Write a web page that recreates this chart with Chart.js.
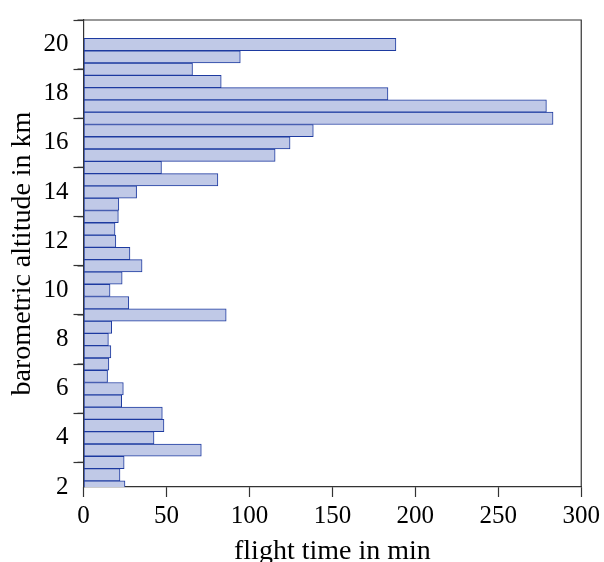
<!DOCTYPE html>
<html lang="en">
<head>
  <meta charset="UTF-8">
  <title>Flight time per altitude</title>
  <script src="https://cdn.jsdelivr.net/npm/chart.js"></script>
  <style>
    * { margin: 0; padding: 0; box-sizing: border-box; }
    body { background: white; }
    .wrap { width: 604px; height: 562px; }
  </style>
</head>
<body>
  <div class="wrap"><canvas id="flightChart" width="604" height="562"></canvas></div>

  <script>
    // altitude bins (km), bottom to top
    const altitudes = [2, 2.5, 3, 3.5, 4, 4.5, 5, 5.5, 6, 6.5, 7, 7.5, 8, 8.5, 9, 9.5, 10, 10.5,
      11, 11.5, 12, 12.5, 13, 13.5, 14, 14.5, 15, 15.5, 16, 16.5, 17, 17.5, 18, 18.5, 19, 19.5, 20];
    // flight time in each bin (min)
    const minutes = [25, 22, 24.5, 71, 42.5, 48.5, 47.5, 23, 24, 14.5, 15.3, 16.5, 15, 17, 86, 27.3, 16, 23.3,
      35.3, 28, 19.5, 19, 21, 21.3, 32, 81, 47, 115.5, 124.5, 138.5, 283, 279, 183.5, 83, 65.7, 94.5, 188.3];
    const xTicks = [0, 50, 100, 150, 200, 250, 300];
    const yTicks = [2, 4, 6, 8, 10, 12, 14, 16, 18, 20];

    const serif = "'Liberation Serif', 'DejaVu Serif', serif";
    const axisColor = '#333';

    // top/right frame and the short minor ticks on the altitude axis
    const frame = {
      id: 'frame',
      afterDraw(chart) {
        const { ctx, chartArea: a } = chart;
        const y = chart.scales.y;
        ctx.save();
        ctx.strokeStyle = axisColor;
        ctx.lineWidth = 1.2;
        ctx.beginPath();
        ctx.moveTo(a.left, a.top);
        ctx.lineTo(a.right, a.top);
        ctx.lineTo(a.right, a.bottom);
        for (let v = 3; v <= 21; v += 2) {
          const py = y.getPixelForValue(v);
          ctx.moveTo(a.left - 6, py);
          ctx.lineTo(a.left, py);
        }
        ctx.stroke();
        ctx.restore();
      }
    };

    new Chart(document.getElementById('flightChart'), {
      type: 'bar',
      data: {
        datasets: [{
          data: altitudes.map((a, i) => ({ x: minutes[i], y: a })),
          backgroundColor: '#c0c9e7',
          borderColor: '#1d3aa0',
          borderWidth: 1,
          borderSkipped: false,
          barPercentage: 1,
          categoryPercentage: 1
        }]
      },
      options: {
        indexAxis: 'y',
        responsive: false,
        animation: false,
        layout: { padding: { top: 15, right: 21, left: 0, bottom: 0 } },
        plugins: { legend: { display: false }, tooltip: { enabled: false } },
        scales: {
          x: {
            type: 'linear',
            min: 0,
            max: 300,
            afterBuildTicks: s => { s.ticks = xTicks.map(v => ({ value: v })); },
            afterFit: s => { s.height = 75; },
            border: { color: axisColor, width: 1.2 },
            grid: { drawOnChartArea: false, tickLength: 10, tickColor: axisColor, tickWidth: 1.2 },
            ticks: { color: '#000', font: { family: serif, size: 25 }, padding: 4, maxRotation: 0 },
            title: { display: true, text: 'flight time in min', color: '#000', font: { family: serif, size: 28 }, padding: { top: 0, bottom: -6 } }
          },
          y: {
            type: 'linear',
            min: 2,
            max: 21,
            offset: false,
            afterBuildTicks: s => { s.ticks = yTicks.map(v => ({ value: v })); },
            afterFit: s => { s.width = 83.5; },
            border: { color: axisColor, width: 1.2 },
            grid: { drawOnChartArea: false, tickLength: 10, tickColor: axisColor, tickWidth: 1.2 },
            ticks: { color: '#000', font: { family: serif, size: 25 }, padding: 5 },
            title: { display: true, text: 'barometric altitude in km', color: '#000', font: { family: serif, size: 28 }, padding: { top: 6, bottom: 0 } }
          }
        }
      },
      plugins: [frame]
    });
  </script>
</body>
</html>
